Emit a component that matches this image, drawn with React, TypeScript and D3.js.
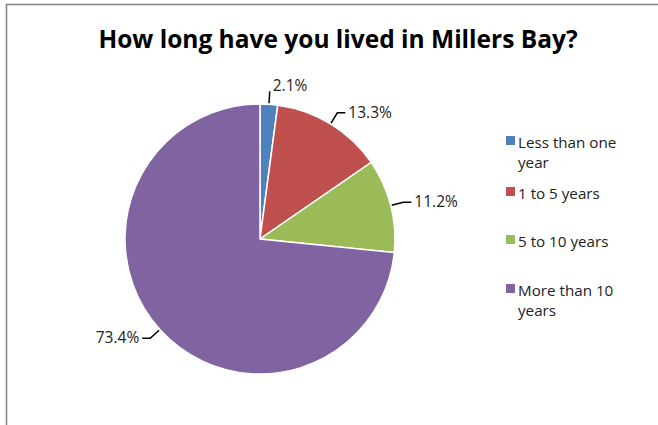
import React from "react";
import * as d3 from "d3";

const categories = ["Less than one year", "1 to 5 years", "5 to 10 years", "More than 10 years"];
const legendLines = [["Less than one", "year"], ["1 to 5 years"], ["5 to 10 years"], ["More than 10", "years"]];
const values = [2.1, 13.3, 11.2, 73.4];
const colors = ["#4F81BD", "#C0504D", "#9BBB59", "#8064A2"];
const title = "How long have you lived in Millers Bay?";

const W = 658;
const H = 425;
const cx = 260;
const cy = 239;
const R = 135;
const FONT = "'Open Sans', sans-serif";

export default function App() {
  const pie = d3.pie<number>().sort(null).value((d) => d)(values);
  const arc = d3.arc<d3.PieArcDatum<number>>().innerRadius(0).outerRadius(R);

  const legendY = [144, 195, 243, 292];

  return (
    <svg width={W} height={H} style={{ position: "absolute", left: 0, top: 0, background: "#fff" }}>
      <rect x={6.5} y={4.5} width={W + 20} height={H + 20} fill="#fff" stroke="#8a8a8a" strokeWidth={1.6} />
      <text x={338} y={48} textAnchor="middle" fontFamily={FONT} fontWeight="bold" fontSize={24.5} fill="#000">
        {title}
      </text>
      <g transform={`translate(${cx},${cy})`}>
        {pie.map((p, i) => (
          <path key={i} d={arc(p) || ""} fill={colors[i]} stroke="#fff" strokeWidth={1.5} />
        ))}
        {pie.map((p, i) => {
          const a = (p.startAngle + p.endAngle) / 2;
          const sx = Math.sin(a), sy = -Math.cos(a);
          const x1 = sx * (R + 1), y1 = sy * (R + 1);
          const x2 = sx * (R + 13), y2 = sy * (R + 13);
          const right = sx >= 0;
          const hl = i === 0 ? 0 : 8;
          const x3 = x2 + (right ? hl : -hl);
          const tx = x3 + (right ? 3 : -3);
          const ty = i === 0 ? y2 : y2 + 5;
          return (
            <g key={"l" + i}>
              <polyline points={`${x1},${y1} ${x2},${y2} ${x3},${y2}`} fill="none" stroke="#000" strokeWidth={1.5} />
              <text x={tx} y={ty} textAnchor={right ? "start" : "end"} fontFamily={FONT} fontSize={15.5} fill="#222">
                {values[i].toFixed(1)}%
              </text>
            </g>
          );
        })}
      </g>
      <g>
        {categories.map((c, i) => (
          <g key={c}>
            <rect x={506} y={legendY[i] - 8} width={9} height={9} fill={colors[i]} />
            {legendLines[i].map((ln, j) => (
              <text key={j} x={518} y={legendY[i] + 4 + j * 20} fontFamily={FONT} fontSize={15.2} fill="#222">
                {ln}
              </text>
            ))}
          </g>
        ))}
      </g>
    </svg>
  );
}
